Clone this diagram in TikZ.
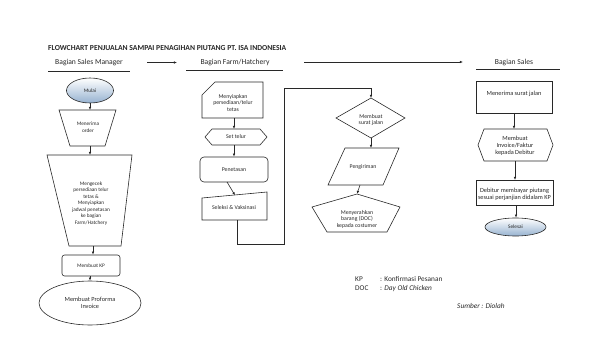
\documentclass[tikz,border=0pt]{standalone}
\usepackage{fontspec}
\setmainfont{Carlito}
\usetikzlibrary{arrows.meta,shapes.geometric}
\definecolor{lnc}{RGB}{40,40,40}
\definecolor{shadeblue}{RGB}{150,178,208}
\begin{document}
\begin{tikzpicture}[x=1pt,y=-1pt,
  line/.style={draw=lnc, line width=0.6pt},
  arr/.style={line, -{Latex[length=3.2pt,width=2.6pt]}},
  txt/.style={font=\fontsize{5.3}{6.5}\selectfont, align=center, inner sep=0pt, text=lnc},
  txtm/.style={font=\fontsize{5.8}{6.5}\selectfont, align=center, inner sep=0pt, text=lnc},
  txtb/.style={font=\fontsize{6.3}{7.2}\selectfont, align=center, inner sep=0pt, text=lnc},
  hdr/.style={font=\fontsize{7.6}{9}\selectfont, inner sep=0pt, text=lnc},
  ttl/.style={font=\fontsize{7.65}{9}\selectfont\bfseries, inner sep=0pt, text=lnc},
  leg/.style={font=\fontsize{7.3}{9}\selectfont, inner sep=0pt, text=lnc, anchor=base west},
  grad/.style={line, top color=white, bottom color=shadeblue}
]
\useasboundingbox (0,0) rectangle (599,350);

% title and headers
\node[ttl, anchor=west] (title) at (48,48) {FLOWCHART PENJUALAN SAMPAI PENAGIHAN PIUTANG PT. ISA INDONESIA};
\node[hdr] (h1) at (89,63) {Bagian Sales Manager};
\node[hdr] (h2) at (235,63) {Bagian Farm/Hatchery};
\node[hdr] (h3) at (514,63) {Bagian Sales};
\draw[line] (48,71) -- (130,71);
\draw[line] (186,70) -- (283,70);
\draw[line] (476,69) -- (560,69);
\coordinate (a1s) at (147,62.5);
\coordinate (a1e) at (177,62.5);
\coordinate (a2s) at (304,62);
\coordinate (a2e) at (463,62);
\draw[arr] (a1s) -- (a1e);
\draw[arr] (a2s) -- (a2e);

% ---------- Sales Manager ----------
\node[ellipse, grad, minimum width=47pt, minimum height=25pt, txt] (mulai) at (90,90.5) {Mulai};

\draw[line] (59,110) -- (116,110) -- (105,146) -- (70,146) -- cycle;
\node[txt] (order) at (88,127) {Menerima\\order};
\coordinate (orderN) at (90,110);
\coordinate (orderS) at (90,146);

\draw[line] (47,155) -- (132,155) -- (121,246) -- (69,246) -- cycle;
\node[txt] (cek) at (91,203.5) {Mengecek\\persediaan telur\\tetas \&\\Menyiapkan\\jadwal penetasan\\ke bagian\\Farm/Hatchery};
\coordinate (cekN) at (90,155);
\coordinate (cekS) at (93,246);

\node[line, rounded corners=2.5pt, minimum width=58pt, minimum height=21pt, txt] (kp) at (91,265.5) {Membuat KP};

\node[ellipse, line, minimum width=102pt, minimum height=44pt, txtb] (proforma) at (90,303) {Membuat Proforma\\Invoice};

\draw[arr] (mulai.south) -- (orderN);
\draw[arr] (orderS) -- (cekN);
\draw[arr] (cekS) -- (cekS |- kp.north);
\draw[arr] (kp.south -| proforma.north) -- (proforma.north);

% ---------- Farm / Hatchery ----------
\draw[line] (202,95) -- (215,82) -- (263,82) -- (263,118) -- (202,118) -- cycle;
\node[txtm] (siap) at (233,103) {Menyiapkan\\persediaan/telur\\tetas};
\coordinate (siapS) at (234,118);

\draw[line] (205,137) -- (212,129) -- (260,129) -- (267,137) -- (260,145) -- (212,145) -- cycle;
\node[txtm] (set) at (236,137) {Set telur};
\coordinate (setN) at (234,129);
\coordinate (setS) at (234,145);

\node[line, rounded corners=4pt, minimum width=68pt, minimum height=25pt, txtm] (tetas) at (234,169.5) {Penetasan};
\coordinate (tetasS) at (227,182);

\draw[line] (202,198) -- (267,192) -- (267,220) -- (202,220) -- cycle;
\node[txtm] (seleksi) at (234,208) {Seleksi \& Vaksinasi};
\coordinate (seleksiN) at (235,195.3);
\coordinate (seleksiS) at (237,220);

\draw[arr] (siapS) -- (setN);
\draw[arr] (setS) -- (tetas.north -| setS);
\draw[arr] (tetasS) -- (seleksiN);

% long connector
\coordinate (c1) at (237,244);
\coordinate (c2) at (284,244);
\coordinate (c3) at (284,88);
\coordinate (c4) at (371,88);
\coordinate (sjN) at (371,98);
\draw[arr] (seleksiS) -- (c1) -- (c2) -- (c3) -- (c4) -- (sjN);

\draw[line] (336,118) -- (371,98) -- (405,118) -- (371,138) -- cycle;
\node[txtm] (sj) at (371,120) {Membuat\\surat jalan};
\coordinate (sjS) at (371,138);

\draw[line] (345,148) -- (399,148) -- (383,185) -- (328,185) -- cycle;
\node[txtm] (kirim) at (363,167) {Pengiriman};
\coordinate (kirimN) at (371,148);
\coordinate (kirimS) at (360,185);

\draw[line] (357,194) -- (400,207) -- (387,232) -- (327,232) -- (312,207) -- cycle;
\node[txtm] (serah) at (357,219) {Menyerahkan\\barang (DOC)\\kepada costumer};
\coordinate (serahN) at (357,194);

\draw[arr] (sjS) -- (kirimN);
\draw[arr] (kirimS) -- (serahN);

% ---------- Sales ----------
\draw[line] (476,81) rectangle (552,113);
\node[txtb] (terima) at (514,94) {Menerima surat jalan};
\coordinate (terimaS) at (514,113);

\draw[line] (478,145) -- (484,129) -- (547,129) -- (553,145) -- (547,161) -- (484,161) -- cycle;
\node[txtb] (inv) at (515,146) {Membuat\\Invoice/Faktur\\kepada Debitur};
\coordinate (invN) at (514,129);
\coordinate (invS) at (515,161);

\draw[line] (476,180) rectangle (553,205);
\node[txtb] (bayar) at (514.5,194) {Debitur membayar piutang\\sesuai perjanjian didalam KP};
\coordinate (bayarN) at (515,180);
\coordinate (bayarS) at (516,205);

\node[ellipse, grad, minimum width=61pt, minimum height=18pt, txt] (selesai) at (515.5,227) {Selesai};

\draw[arr] (terimaS) -- (invN);
\draw[arr] (invS) -- (bayarN);
\draw[arr] (bayarS) -- (bayarS |- selesai.north);

% legend
\node[leg] (kpk) at (355,281) {KP};
\node[leg] (kpv) at (380,281) {: Konfirmasi Pesanan};
\node[leg] (dock) at (355,290) {DOC};
\node[leg] (docv) at (380,290) {: \textit{Day Old Chicken}};
\node[leg] (sumber) at (457,308) {\textit{Sumber : Diolah}};
\end{tikzpicture}
\end{document}
